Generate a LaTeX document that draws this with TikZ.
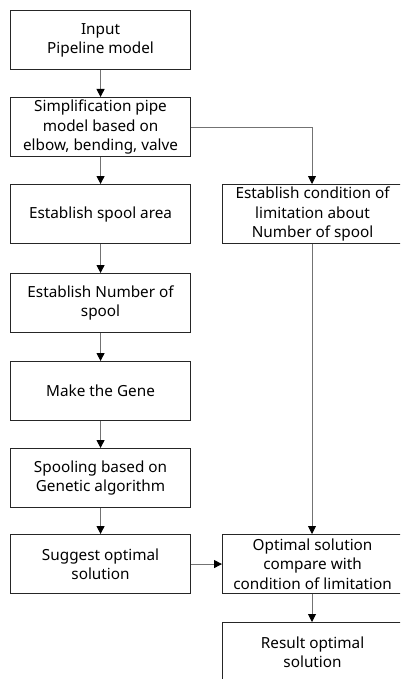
\documentclass[tikz,border=0pt]{standalone}
\usepackage{fontspec}
\setmainfont{Noto Sans}
\usetikzlibrary{arrows.meta}
\begin{document}
\begin{tikzpicture}[x=1pt,y=-1pt,
  box/.style={draw=black!85,line width=1.1pt,minimum width=180pt,minimum height=59pt,
    inner sep=0pt,align=center,font=\fontsize{15.3}{19.3}\selectfont,anchor=north west},
  conn/.style={draw=black!55,line width=0.9pt,-{Triangle[length=8pt,width=8pt,fill=black,color=black]}},
  plain/.style={draw=black!55,line width=0.9pt}]
\useasboundingbox (0,0) rectangle (400,679);
\clip (0,0) rectangle (400,679);
\node[box] (b1) at (10,10) {Input\\Pipeline model};
\node[box] (b2) at (10,97) {Simplification pipe\\model based on\\elbow, bending, valve};
\node[box] (b3) at (10,184) {Establish spool area};
\node[box] (b4) at (10,273) {Establish Number of\\spool};
\node[box] (b5) at (10,361) {Make the Gene};
\node[box] (b6) at (10,448) {Spooling based on\\Genetic algorithm};
\node[box] (b7) at (10,534) {Suggest optimal\\solution};
\node[box] (r1) at (222,184) {Establish condition of\\limitation about\\Number of spool};
\node[box] (r2) at (222,534) {Optimal solution\\compare with\\condition of limitation};
\node[box] (r3) at (222,622) {Result optimal\\solution};
\draw[conn] (b1.south) -- (b2.north);
\draw[conn] (b2.south) -- (b3.north);
\draw[conn] (b3.south) -- (b4.north);
\draw[conn] (b4.south) -- (b5.north);
\draw[conn] (b5.south) -- (b6.north);
\draw[conn] (b6.south) -- (b7.north);
\coordinate (k) at (312,127);
\draw[conn] (b2.east |- k) -- (k) -- (k |- r1.north);
\draw[conn] (r1.south -| k) -- (k |- r2.north);
\draw[conn] (b7.east) -- (r2.west);
\draw[conn] (r2.south -| k) -- (k |- r3.north);
\end{tikzpicture}
\end{document}
